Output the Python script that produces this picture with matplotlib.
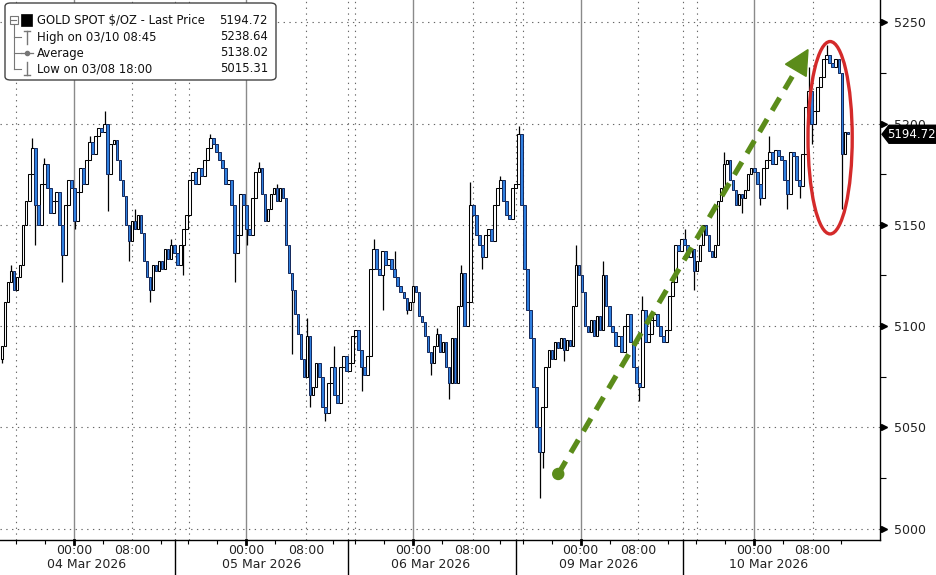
import matplotlib
matplotlib.use("Agg")
import matplotlib.pyplot as plt
import matplotlib.transforms as mtransforms
from matplotlib.patches import Ellipse, FancyBboxPatch, Polygon, Rectangle, Circle
from matplotlib.lines import Line2D
import numpy as np

# ---------------- data ----------------
# 25-minute bars, closes (trading time, weekend removed)
first_open = 5084
close_a = [5090, 5112, 5122, 5127, 5118, 5124, 5130, 5150, 5162, 5175,
           5188, 5160, 5150, 5170, 5180, 5168, 5156, 5162, 5166, 5150,
           5135, 5160, 5172, 5168, 5152, 5166, 5178, 5170, 5182, 5191,
           5185, 5194, 5198, 5196, 5200, 5175, 5190, 5192, 5182, 5172,
           5164, 5150, 5142, 5152, 5148, 5155, 5146, 5132, 5124, 5118,
           5130, 5127, 5132, 5128, 5138, 5133, 5140, 5136]
close_b = [5130, 5140, 5148, 5155, 5172, 5176, 5170, 5178, 5174, 5182,
           5188, 5193, 5190, 5186, 5182, 5178, 5170, 5172, 5160, 5136,
           5145, 5165, 5160, 5148, 5145, 5163, 5176, 5178, 5165, 5152,
           5158, 5165, 5168, 5162, 5168, 5163, 5140, 5126, 5118, 5106,
           5096, 5084, 5075, 5095, 5066, 5070, 5082, 5075, 5060, 5057,
           5072, 5080, 5066, 5062, 5080, 5085, 5078, 5082]
close_c = [5095, 5098, 5088, 5080, 5076, 5085, 5128, 5138, 5128, 5125,
           5137, 5130, 5133, 5128, 5124, 5120, 5117, 5114, 5108, 5112,
           5120, 5117, 5105, 5102, 5095, 5087, 5082, 5090, 5096, 5087,
           5092, 5080, 5072, 5094, 5072, 5110, 5126, 5100, 5112, 5160,
           5155, 5145, 5140, 5134, 5145, 5148, 5142, 5160, 5168, 5172,
           5162, 5155, 5153, 5168, 5170, 5195]
close_d = [5160, 5128, 5108, 5094, 5070, 5050, 5038, 5060, 5080, 5088,
           5084, 5092, 5089, 5094, 5088, 5093, 5090, 5110, 5130, 5125,
           5117, 5100, 5097, 5103, 5095, 5105, 5098, 5125, 5110, 5100,
           5097, 5090, 5095, 5087, 5100, 5106, 5092, 5080, 5072, 5070,
           5108, 5092, 5096, 5103, 5106, 5100, 5095, 5092, 5098, 5115,
           5122, 5140, 5137, 5143, 5140]
close_e = [5134, 5138, 5127, 5132, 5140, 5150, 5145, 5137, 5134, 5140,
           5162, 5168, 5180, 5182, 5172, 5167, 5160, 5165, 5163, 5167,
           5175, 5178, 5176, 5170, 5163, 5178, 5182, 5186, 5180, 5187,
           5184, 5182, 5172, 5165, 5186, 5184, 5172, 5169, 5185, 5208,
           5216, 5200, 5206, 5218, 5223, 5232, 5234, 5230, 5228, 5232,
           5225, 5185, 5196, 5194.72]

# wick extremes (bar index -> price)
wick_hi_idx = [3, 10, 14, 29, 34, 44, 56, 69, 85, 91, 101, 110, 123, 130,
               144, 152, 155, 165, 171, 190, 199, 212, 226, 239, 254, 267, 273]
wick_hi_val = [5130, 5193, 5183, 5194, 5206, 5158, 5143, 5195, 5181, 5170,
               5104, 5090, 5143, 5137, 5099, 5130, 5171, 5174, 5199, 5140,
               5132, 5115, 5148, 5186, 5194, 5228, 5238.64]
wick_lo_idx = [0, 11, 20, 24, 35, 42, 49, 60, 77, 81, 96, 102, 107, 119, 126,
               134, 142, 148, 159, 178, 179, 186, 211, 229, 245, 251, 260,
               264, 268, 278]
wick_lo_val = [5082, 5140, 5122, 5148, 5157, 5132, 5112, 5125, 5122, 5140,
               5086, 5060, 5053, 5068, 5108, 5106, 5076, 5064, 5128, 5015.31,
               5030, 5083, 5063, 5118, 5156, 5160, 5158, 5163, 5190, 5158]

bar_minutes = 25
bar_start_h = 0.28          # first bar, hours after chart start

# axis definitions (hours of trading time from chart start)
midnight_h = [10.2, 34.0, 57.0, 80.1, 104.0]
eight_h = [18.2, 42.2, 65.2, 88.0, 112.1]
sixteen_h = [2.2, 26.1, 49.0, 72.1, 96.1]
session_sep_h = [24.1, 48.0, 71.2, 94.2]
date_labels = ["04 Mar 2026", "05 Mar 2026", "06 Mar 2026", "09 Mar 2026", "10 Mar 2026"]
date_center_h = [12.0, 36.1, 59.4, 82.5, 106.0]
y_ticks = [5000, 5050, 5100, 5150, 5200, 5250]

legend_rows = ["GOLD SPOT $/OZ - Last Price", "High on 03/10 08:45", "Average", "Low on 03/08 18:00"]
legend_vals = ["5194.72", "5238.64", "5138.02", "5015.31"]
last_price = 5194.72

# ---------------- figure ----------------
W, H = 937, 575
PX_PER_H = 7.25
fig = plt.figure(figsize=(W / 100, H / 100), dpi=100)
ax = fig.add_axes([0, 35 / H, 880 / W, 540 / H])
ax.set_xlim(0, 880 / PX_PER_H)
ax.set_ylim(4994.4, 5261)

closes = np.array(close_a + close_b + close_c + close_d + close_e, dtype=float)
opens = np.concatenate([[first_open], closes[:-1]])
n = len(closes)
t = bar_start_h + np.arange(n) * bar_minutes / 60.0
highs = np.maximum(opens, closes)
lows = np.minimum(opens, closes)
for i, v in zip(wick_hi_idx, wick_hi_val):
    highs[i] = max(highs[i], v)
for i, v in zip(wick_lo_idx, wick_lo_val):
    lows[i] = min(lows[i], v)

BLUE = "#2f7fe0"
up = closes >= opens
bw = 0.85 * bar_minutes / 60.0
ax.vlines(t, lows, highs, color="black", lw=0.9, zorder=3)
ax.bar(t[up], (closes - opens)[up], bottom=opens[up], width=bw,
       color="white", edgecolor="black", linewidth=0.75, zorder=4)
ax.bar(t[~up], (closes - opens)[~up], bottom=opens[~up], width=bw,
       color=BLUE, edgecolor="#14285a", linewidth=0.7, zorder=4)

# grid
for y in y_ticks:
    ax.axhline(y, color="#666666", lw=0.8, ls=(0, (1.2, 4)), zorder=1)
for x in midnight_h:
    ax.axvline(x, color="#8a8a8a", lw=1.0, zorder=1)
for x in eight_h + sixteen_h + session_sep_h:
    ax.axvline(x, color="#666666", lw=0.8, ls=(0, (1.2, 4)), zorder=1)

# spines
for s in ["top", "left"]:
    ax.spines[s].set_visible(False)
ax.spines["right"].set_color("black")
ax.spines["bottom"].set_color("black")
ax.spines["right"].set_linewidth(1.0)
ax.spines["bottom"].set_linewidth(1.0)

# y axis on right
ax.yaxis.tick_right()
ax.set_yticks(y_ticks)
ax.set_yticklabels([str(v) for v in y_ticks], fontsize=9, color="#222222")
ax.tick_params(axis="y", which="major", length=0, pad=10)
ax.set_yticks([5025, 5075, 5125, 5175, 5225], minor=True)
ax.tick_params(axis="y", which="minor", length=4, width=0.8, color="black", direction="out")
trans_y = mtransforms.blended_transform_factory(ax.transAxes, ax.transData)
tri_tr = mtransforms.offset_copy(trans_y, fig=fig, x=3.0, y=0, units="points")
ax.plot([1.0] * len(y_ticks), y_ticks, ls="none", marker=">", ms=5, color="black",
        transform=tri_tr, clip_on=False, zorder=6)

# x axis
ax.set_xticks([])
ax.set_xticks([m + d for m in midnight_h for d in (-8, -4, 4, 12)], minor=True)
ax.tick_params(axis="x", which="minor", length=3, width=0.8, color="black", direction="out")
trans_x = mtransforms.blended_transform_factory(ax.transData, ax.transAxes)
for m in midnight_h:
    ax.plot([m, m], [0, -4 / 540], color="black", lw=2, transform=trans_x, clip_on=False)
for s in session_sep_h:
    ax.plot([s, s], [0, -40 / 540], color="black", lw=1.0, transform=trans_x, clip_on=False)
for m in midnight_h:
    ax.text(m, -10 / 540, "00:00", transform=trans_x, ha="center", va="center",
            fontsize=9, color="#222222")
for e in eight_h:
    ax.text(e, -10 / 540, "08:00", transform=trans_x, ha="center", va="center",
            fontsize=9, color="#222222")
for c, lbl in zip(date_center_h, date_labels):
    ax.text(c, -25 / 540, lbl, transform=trans_x, ha="center", va="center",
            fontsize=9, color="#222222")

# ---------------- annotations ----------------
GREEN = "#5b8c1a"
start = ax.transData.transform((77.0, 5027.0))
tip = ax.transData.transform((111.45, 5236.5))
vec = tip - start
L = np.hypot(*vec)
u = vec / L
nrm = np.array([-u[1], u[0]])
head_len, head_w = 24, 12
base = tip - head_len * u
ident = mtransforms.IdentityTransform()
fig.add_artist(Line2D([start[0], base[0]], [start[1], base[1]], transform=ident,
                      color=GREEN, lw=3.8, ls=(0, (2.8, 1.9)), solid_capstyle="butt",
                      dash_capstyle="butt", zorder=10))
fig.add_artist(Polygon([tip, base + head_w * nrm, base - head_w * nrm], closed=True,
                       transform=ident, color=GREEN, zorder=10))
fig.add_artist(Circle(start, 5.5, transform=ident, color=GREEN, zorder=10))

ax.add_patch(Ellipse((114.5, 5193.0), 6.1, 95.0, fill=False, edgecolor="#d42a2a",
                     lw=2.4, zorder=9))

# last price tag
lp = ax.transData.transform((0, last_price))[1]
x0 = 882
tag = Polygon([(x0, lp), (x0 + 7, lp + 9), (W, lp + 9), (W, lp - 9), (x0 + 7, lp - 9)],
              closed=True, transform=ident, color="black", zorder=20)
fig.add_artist(tag)
fig.text(911 / W, lp / H, f"{last_price:.2f}", color="white", fontsize=8.5,
         ha="center", va="center", zorder=21)

# ---------------- legend box ----------------
def fx(px):
    return px / W

def fy(py):
    return 1 - py / H

box = FancyBboxPatch((fx(5), fy(80)), fx(276) - fx(5), fy(3) - fy(80),
                     boxstyle="round,pad=0,rounding_size=0.006", transform=fig.transFigure,
                     facecolor="white", edgecolor="#444444", lw=1.0, zorder=30)
fig.add_artist(box)
row_y = [20, 37, 53, 69]
GRAY = "#777777"
# tree lines
fig.add_artist(Line2D([fx(14), fx(14)], [fy(25), fy(69)], color=GRAY, lw=0.8, zorder=31))
for ry in row_y[1:]:
    fig.add_artist(Line2D([fx(14), fx(21)], [fy(ry), fy(ry)], color=GRAY, lw=0.8, zorder=31))
# collapse box
fig.add_artist(Rectangle((fx(10), fy(24)), fx(8), fy(16) - fy(24), transform=fig.transFigure,
                         facecolor="white", edgecolor=GRAY, lw=0.8, zorder=32))
fig.add_artist(Line2D([fx(11.5), fx(16.5)], [fy(20), fy(20)], color=GRAY, lw=0.8, zorder=33))
# black square
fig.add_artist(Rectangle((fx(21), fy(26)), fx(11), fy(14) - fy(26), transform=fig.transFigure,
                         facecolor="black", edgecolor="black", lw=0.5, zorder=32))
# high icon
fig.add_artist(Line2D([fx(27), fx(27)], [fy(31), fy(44)], color=GRAY, lw=1.0, zorder=32))
fig.add_artist(Line2D([fx(24), fx(30)], [fy(31), fy(31)], color=GRAY, lw=1.0, zorder=32))
# average icon
fig.add_artist(Line2D([fx(21), fx(33)], [fy(53), fy(53)], color=GRAY, lw=0.9, zorder=32))
fig.add_artist(Line2D([fx(27)], [fy(53)], color=GRAY, marker="o", ms=3, ls="none", zorder=33))
# low icon
fig.add_artist(Line2D([fx(27), fx(27)], [fy(62), fy(75)], color=GRAY, lw=1.0, zorder=32))
fig.add_artist(Line2D([fx(24), fx(30)], [fy(75), fy(75)], color=GRAY, lw=1.0, zorder=32))
for ry, lbl, val in zip(row_y, legend_rows, legend_vals):
    fig.text(fx(37), fy(ry), lbl, fontsize=8.4, color="#111111", ha="left", va="center", zorder=34)
    fig.text(fx(268), fy(ry), val, fontsize=8.4, color="#111111", ha="right", va="center", zorder=34)

fig.savefig("out.png", dpi=100, facecolor="white")
